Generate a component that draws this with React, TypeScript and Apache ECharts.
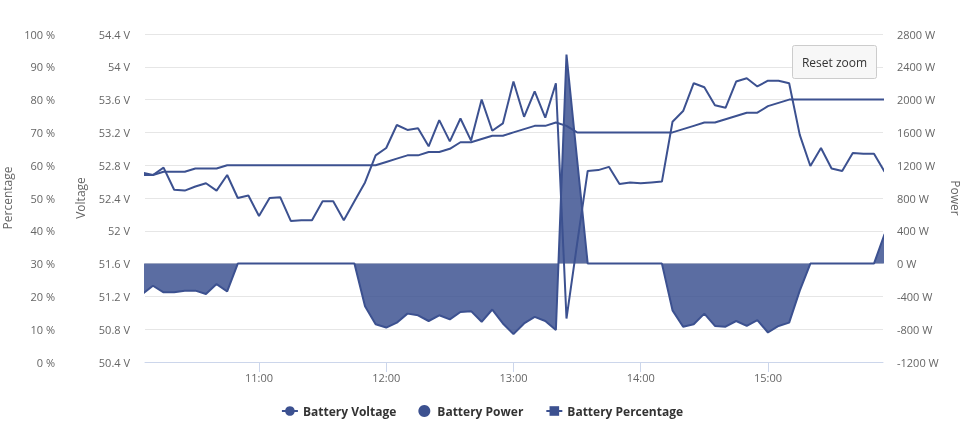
import React, { useEffect, useRef } from "react";
import * as echarts from "echarts";

const times = [
  "10:05", "10:10", "10:15", "10:20", "10:25", "10:30", "10:35", "10:40", "10:45", "10:50", "10:55",
  "11:00", "11:05", "11:10", "11:15", "11:20", "11:25", "11:30", "11:35", "11:40", "11:45", "11:50", "11:55",
  "12:00", "12:05", "12:10", "12:15", "12:20", "12:25", "12:30", "12:35", "12:40", "12:45", "12:50", "12:55",
  "13:00", "13:05", "13:10", "13:15", "13:20", "13:25", "13:30", "13:35", "13:40", "13:45", "13:50", "13:55",
  "14:00", "14:05", "14:10", "14:15", "14:20", "14:25", "14:30", "14:35", "14:40", "14:45", "14:50", "14:55",
  "15:00", "15:05", "15:10", "15:15", "15:20", "15:25", "15:30", "15:35", "15:40", "15:45", "15:50", "15:55",
];

const batteryVoltage = [
  52.71, 52.68, 52.77, 52.5, 52.49, 52.54, 52.58, 52.49, 52.68, 52.4, 52.43,
  52.18, 52.4, 52.41, 52.12, 52.13, 52.13, 52.36, 52.36, 52.13, 52.36, 52.59, 52.92,
  53.01, 53.29, 53.23, 53.25, 53.03, 53.35, 53.09, 53.37, 53.1, 53.6, 53.22, 53.31,
  53.82, 53.39, 53.7, 53.38, 53.8, 50.93, 51.84, 52.73, 52.74, 52.78, 52.57, 52.59,
  52.58, 52.59, 52.6, 53.33, 53.46, 53.8, 53.75, 53.53, 53.5, 53.82, 53.86, 53.76,
  53.83, 53.83, 53.8, 53.17, 52.79, 53.01, 52.76, 52.73, 52.95, 52.94, 52.94, 52.72,
];

const batteryPower = [
  -370, -270, -350, -350, -330, -330, -370, -250, -340, 0, 0,
  0, 0, 0, 0, 0, 0, 0, 0, 0, 0, -520, -740,
  -780, -720, -610, -630, -700, -630, -680, -590, -580, -710, -560, -730,
  -860, -730, -650, -700, -810, 2550, 1270, 0, 0, 0, 0, 0,
  0, 0, 0, -570, -770, -740, -610, -760, -770, -700, -760, -690,
  -840, -760, -720, -330, 0, 0, 0, 0, 0, 0, 0, 360,
];

const batteryPercentage = [
  57, 57, 58, 58, 58, 59, 59, 59, 60, 60, 60,
  60, 60, 60, 60, 60, 60, 60, 60, 60, 60, 60, 60,
  61, 62, 63, 63, 64, 64, 65, 67, 67, 68, 69, 69,
  70, 71, 72, 72, 73, 72, 70, 70, 70, 70, 70, 70,
  70, 70, 70, 70, 71, 72, 73, 73, 74, 75, 76, 76,
  78, 79, 80, 80, 80, 80, 80, 80, 80, 80, 80, 80,
];

const xTickLabels = ["11:00", "12:00", "13:00", "14:00", "15:00"];
const xRange = ["10:06:15", "15:54:15"];

const toMin = (s: string) => {
  const p = s.split(":").map(Number);
  return p[0] * 60 + p[1] + (p[2] || 0) / 60;
};
const fmtMin = (v: number) => {
  const h = Math.floor(v / 60);
  const m = Math.round(v - h * 60);
  return `${h}:${m < 10 ? "0" : ""}${m}`;
};

const FONT = '"Open Sans", "Noto Sans", sans-serif';
const LINE = "#3c5190";
const LABEL = "#666666";

export default function App() {
  const ref = useRef<HTMLDivElement>(null);
  useEffect(() => {
    if (!ref.current) return;
    const chart = echarts.init(ref.current, undefined, { renderer: "svg" });
    const xs = times.map(toMin);
    const tickVals = xTickLabels.map(toMin);
    const axisLabelBase = { color: LABEL, fontSize: 11, fontFamily: FONT };
    const nameStyle = { color: LABEL, fontSize: 12, fontFamily: FONT };
    chart.setOption({
      animation: false,
      textStyle: { fontFamily: FONT },
      grid: { left: 145, right: 81, top: 34, bottom: 71, containLabel: false, outerBoundsMode: "none" },
      legend: {
        top: 400,
        left: "center",
        itemWidth: 16,
        itemHeight: 12,
        itemGap: 22,
        textStyle: { color: "#333333", fontSize: 12, fontWeight: "bold", fontFamily: FONT },
        data: [
          { name: "Battery Voltage" },
          { name: "Battery Power", icon: "circle" },
          { name: "Battery Percentage" },
        ],
      },
      xAxis: {
        type: "value",
        min: toMin(xRange[0]),
        max: toMin(xRange[1]),
        splitLine: { show: false },
        axisLine: { show: true, lineStyle: { color: "#ccd6eb", width: 1 } },
        axisTick: { show: true, length: 10, customValues: tickVals, lineStyle: { color: "#ccd6eb" } },
        axisLabel: {
          ...axisLabelBase,
          customValues: tickVals,
          margin: 10,
          formatter: (v: number) => fmtMin(v),
        },
      },
      yAxis: [
        {
          type: "value",
          position: "left",
          min: 50.4,
          max: 54.4,
          interval: 0.4,
          name: "Voltage",
          nameLocation: "middle",
          nameRotate: 90,
          nameGap: 59,
          nameTextStyle: nameStyle,
          axisLine: { show: false },
          axisTick: { show: false },
          splitLine: { show: true, lineStyle: { color: "#e6e6e6", width: 1 } },
          axisLabel: { ...axisLabelBase, margin: 15, formatter: (v: number) => `${+v.toFixed(1)} V` },
        },
        {
          type: "value",
          position: "left",
          offset: 85,
          min: 0,
          max: 100,
          interval: 10,
          name: "Percentage",
          nameLocation: "middle",
          nameRotate: 90,
          nameGap: 43,
          nameTextStyle: nameStyle,
          axisLine: { show: false },
          axisTick: { show: false },
          splitLine: { show: false },
          axisLabel: { ...axisLabelBase, margin: 5, formatter: (v: number) => `${v} %` },
        },
        {
          type: "value",
          position: "right",
          min: -1200,
          max: 2800,
          interval: 400,
          name: "Power",
          nameLocation: "middle",
          nameRotate: -90,
          nameGap: 66,
          nameTextStyle: nameStyle,
          axisLine: { show: false },
          axisTick: { show: false },
          splitLine: { show: false },
          axisLabel: { ...axisLabelBase, margin: 14, formatter: (v: number) => `${v} W` },
        },
      ],
      series: [
        {
          name: "Battery Voltage",
          type: "line",
          yAxisIndex: 0,
          symbol: "circle",
          showSymbol: false,
          color: LINE,
          lineStyle: { color: LINE, width: 2 },
          data: xs.map((x, i) => [x, batteryVoltage[i]]),
        },
        {
          name: "Battery Power",
          type: "line",
          yAxisIndex: 2,
          symbol: "circle",
          showSymbol: false,
          color: LINE,
          lineStyle: { color: LINE, width: 2 },
          areaStyle: { color: LINE, opacity: 0.84, origin: 0 },
          data: xs.map((x, i) => [x, batteryPower[i]]),
        },
        {
          name: "Battery Percentage",
          type: "line",
          yAxisIndex: 1,
          symbol: "rect",
          showSymbol: false,
          color: LINE,
          lineStyle: { color: LINE, width: 2 },
          data: xs.map((x, i) => [x, batteryPercentage[i]]),
        },
      ],
      graphic: [
        {
          type: "rect",
          shape: { x: 792.5, y: 45.5, width: 84, height: 33, r: 2 },
          style: { fill: "#f7f7f7", stroke: "#cccccc", lineWidth: 1 },
          z: 100,
        },
        {
          type: "text",
          x: 834.5,
          y: 62,
          z: 101,
          style: {
            text: "Reset zoom",
            fill: "#333333",
            font: `12px ${FONT}`,
            align: "center",
            verticalAlign: "middle",
          },
        },
      ],
    });
    return () => chart.dispose();
  }, []);
  return (
    <div
      ref={ref}
      style={{ position: "fixed", left: 0, top: 0, width: 964, height: 433 }}
    />
  );
}
